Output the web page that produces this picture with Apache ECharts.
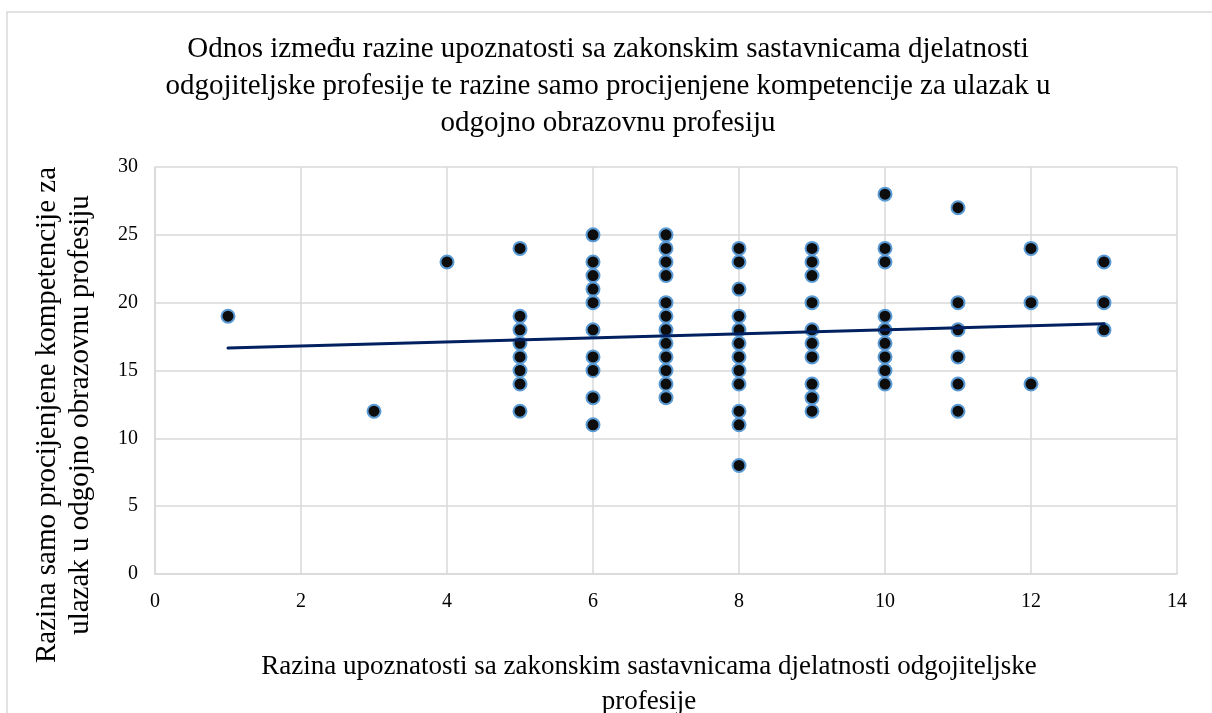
<!DOCTYPE html>
<html>
<head>
<meta charset="utf-8">
<script src="https://cdn.jsdelivr.net/npm/echarts@6/dist/echarts.min.js"></script>
<style>html,body{margin:0;padding:0;background:#fff}#c{width:1212px;height:713px}</style>
</head>
<body>
<div id="c"></div>
<script>
// x value -> list of y values
const xValues = [1, 3, 4, 5, 6, 7, 8, 9, 10, 11, 12, 13];
const yByX = [
  [19],
  [12],
  [23],
  [24, 19, 18, 17, 16, 15, 14, 12],
  [25, 23, 22, 21, 20, 18, 16, 15, 13, 11],
  [25, 24, 23, 22, 20, 19, 18, 17, 16, 15, 14, 13],
  [24, 23, 21, 19, 18, 17, 16, 15, 14, 12, 11, 8],
  [24, 23, 22, 20, 18, 17, 16, 14, 13, 12],
  [28, 24, 23, 19, 18, 17, 16, 15, 14],
  [27, 20, 18, 16, 14, 12],
  [24, 20, 14],
  [23, 20, 18]
];
// linear trendline endpoints
const trendX = [1, 13];
const trendY = [16.65, 18.45];
const xTicks = [0, 2, 4, 6, 8, 10, 12, 14];
const yTicks = [0, 5, 10, 15, 20, 25, 30];

const titleText = 'Odnos između razine upoznatosti sa zakonskim sastavnicama djelatnosti\nodgojiteljske profesije te razine samo procijenjene kompetencije za ulazak u\nodgojno obrazovnu profesiju';
const xName = 'Razina upoznatosti sa zakonskim sastavnicama djelatnosti odgojiteljske\nprofesije';
const yName = 'Razina samo procijenjene kompetencije za\nulazak u odgojno obrazovnu profesiju';

const points = [];
xValues.forEach((x, i) => yByX[i].forEach(y => points.push([x, y])));
const trend = trendX.map((x, i) => [x, trendY[i]]);

const FONT = '"Liberation Serif", "Times New Roman", serif';
const chart = echarts.init(document.getElementById('c'), null, {renderer: 'canvas'});
chart.setOption({
  animation: false,
  backgroundColor: '#fff',
  grid: {left: 155, right: 35, top: 167, bottom: 139, containLabel: false},
  xAxis: {
    type: 'value', min: 0, max: 14, interval: 2,
    axisLine: {show: true, lineStyle: {color: '#d9d9d9', width: 1.5}},
    axisTick: {show: false},
    splitLine: {show: true, lineStyle: {color: '#d9d9d9', width: 1.5}},
    axisLabel: {fontFamily: FONT, fontSize: 20, color: '#000', margin: 18,
      formatter: v => xTicks.includes(v) ? String(v) : ''}
  },
  yAxis: {
    type: 'value', min: 0, max: 30, interval: 5,
    axisLine: {show: true, lineStyle: {color: '#d9d9d9', width: 1.5}},
    axisTick: {show: false},
    splitLine: {show: true, lineStyle: {color: '#d9d9d9', width: 1.5}},
    axisLabel: {fontFamily: FONT, fontSize: 20, color: '#000', margin: 17,
      formatter: v => yTicks.includes(v) ? String(v) : ''}
  },
  graphic: [
    {type: 'rect', shape: {x: 7, y: 12, width: 1300, height: 800}, style: {fill: 'none', stroke: '#d9d9d9', lineWidth: 1.5}, z: -10, silent: true},
    {type: 'text', x: 608, y: 86, style: {text: titleText, font: '29px ' + FONT, fill: '#000', align: 'center', verticalAlign: 'middle', lineHeight: 37}},
    {type: 'text', x: 649, y: 684, style: {text: xName, font: '27px ' + FONT, fill: '#000', align: 'center', verticalAlign: 'middle', lineHeight: 35}},
    {type: 'text', x: 64, y: 415, rotation: Math.PI / 2, style: {text: yName, font: '29px ' + FONT, fill: '#000', align: 'center', verticalAlign: 'middle', lineHeight: 33}}
  ],
  series: [
    {
      type: 'scatter', data: points, symbol: 'circle', symbolSize: 13,
      itemStyle: {color: '#0d0d0d', borderColor: '#5b9bd5', borderWidth: 2, opacity: 1},
      z: 3
    },
    {
      type: 'line', data: trend, showSymbol: false, symbol: 'none',
      lineStyle: {color: '#002060', width: 3, cap: 'round'}, z: 4
    }
  ]
});
</script>
</body>
</html>
